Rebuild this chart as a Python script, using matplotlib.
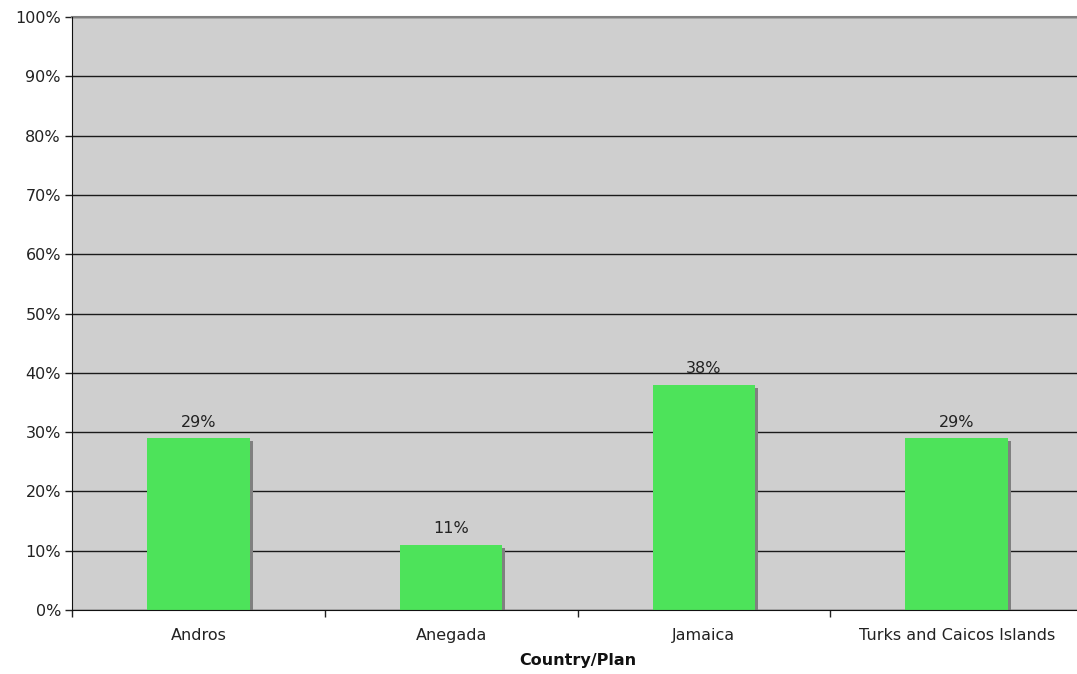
import matplotlib
matplotlib.use("Agg")
import matplotlib.pyplot as plt
import matplotlib.patheffects as pe
import numpy as np

categories = ["Andros", "Anegada", "Jamaica", "Turks and Caicos Islands"]
values = [29, 11, 38, 29]
labels = ["29%", "11%", "38%", "29%"]
yticks = [0, 10, 20, 30, 40, 50, 60, 70, 80, 90, 100]

fig = plt.figure(figsize=(10.77, 6.74), dpi=100)
ax = fig.add_axes([72/1077, 1-610/674, 1011/1077, (610-17)/674])
ax.set_facecolor("#cfcfcf")

x = np.arange(len(categories))
bars = ax.bar(x, values, width=0.405, color="#4de35a", zorder=3,
              path_effects=[pe.SimplePatchShadow(offset=(2.2, -2.2), shadow_rgbFace="#808080", alpha=1.0), pe.Normal()])

for xi, v, lab in zip(x, values, labels):
    ax.annotate(lab, (xi, v), xytext=(0, 6), textcoords="offset points",
                ha="center", va="bottom", fontsize=11.5, color="#222222", zorder=5)

ax.set_xlim(-0.5, len(categories) - 0.5)
ax.set_ylim(0, 100)
ax.set_yticks(yticks)
ax.set_yticklabels([f"{t}%" for t in yticks], fontsize=11.5, color="#222222")
ax.yaxis.grid(True, color="#1a1a1a", linewidth=1.0, zorder=1)
ax.set_axisbelow(True)

ax.set_xticks(x)
ax.set_xticklabels(categories, fontsize=11.5, color="#222222")
ax.tick_params(axis="x", length=0, pad=13)
ax.set_xticks(np.arange(-0.5, len(categories) - 0.4, 1.0), minor=True)
ax.tick_params(axis="x", which="minor", length=5, width=1, color="#222222")
ax.tick_params(axis="y", length=5, width=1, color="#222222", pad=3)

ax.spines["top"].set_color("#808080")
ax.spines["top"].set_linewidth(1.5)
ax.spines["right"].set_visible(False)
ax.spines["left"].set_color("#111111")
ax.spines["bottom"].set_color("#111111")
ax.spines["left"].set_zorder(6)
ax.spines["bottom"].set_zorder(6)

ax.set_xlabel("Country/Plan", fontsize=11.5, fontweight="bold", color="#111111", labelpad=7)

fig.savefig("out.png", dpi=100)
